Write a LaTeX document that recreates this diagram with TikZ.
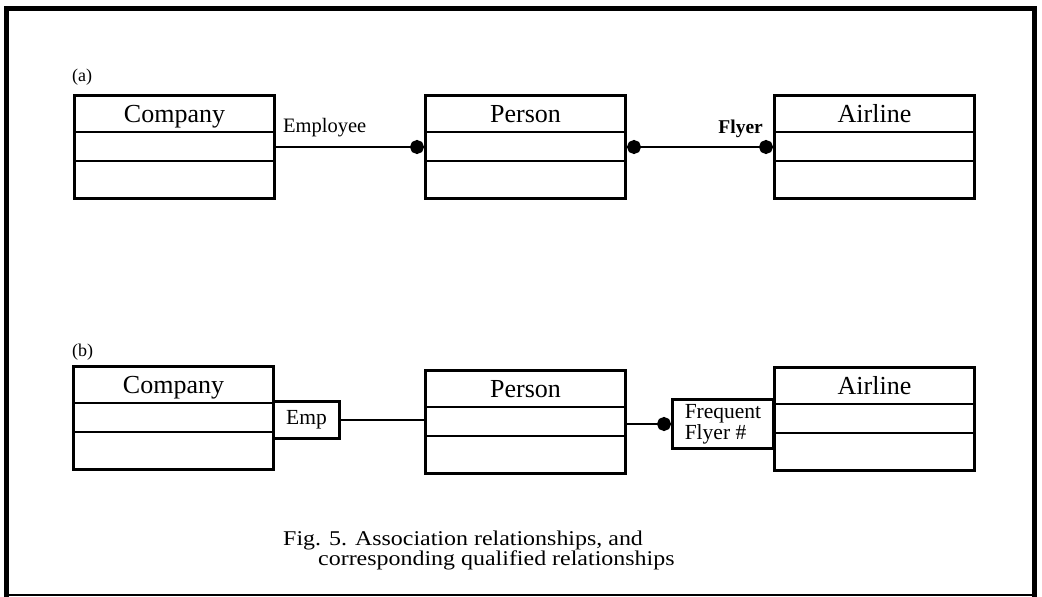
\documentclass[tikz,border=0pt]{standalone}
\usepackage{fontspec}
\setmainfont{Liberation Serif}
\newfontfamily\capfont[FakeStretch=1.14]{Liberation Serif}
\usetikzlibrary{arrows.meta,calc}

\tikzset{
  classbox/.style={draw, line width=3pt, minimum width=200pt, minimum height=103pt,
    inner sep=0pt, anchor=north west},
  divider/.style={line width=2.6pt},
  classname/.style={font=\fontsize{26}{28}\selectfont, anchor=base, inner sep=0pt},
  qualbox/.style={draw, line width=3pt, inner sep=0pt, anchor=north west},
  assoc/.style={line width=2.8pt},
  ball/.style={-{Circle[length=14pt]}},
  roleA/.style={font=\fontsize{20.5}{22}\selectfont},
  roleB/.style={font=\bfseries\fontsize{19.5}{22}\selectfont},
  partlabel/.style={font=\fontsize{18}{20}\selectfont, anchor=west, inner sep=0pt},
  caption/.style={font=\capfont\fontsize{21}{21}\selectfont, anchor=base west, inner sep=0pt},
  frame/.style={line width=5pt},
}

% class box: name, x, top y, label
\newcommand{\umlclass}[4]{%
  \node[classbox] (#1) at (#2,#3) {};
  \draw[divider] ($(#1.north west)+(0,38)$) -- ($(#1.north east)+(0,38)$);
  \draw[divider] ($(#1.north west)+(0,67)$) -- ($(#1.north east)+(0,67)$);
  \node[classname] (#1-name) at ($(#1.north)+(0,28)$) {#4};
}

\begin{document}
\begin{tikzpicture}[x=1pt, y=-1pt]
\useasboundingbox (0,0) rectangle (1042,597);

% outer frame
\draw[frame] (6,597) -- (6,8) -- (1034,8) -- (1034,597);
\draw[line width=1.5pt] (6,595) -- (1034,595);

% (a) association relationships
\node[partlabel] (lblA) at (72,77) {(a)};
\umlclass{coA}{73}{94}{Company}
\umlclass{peA}{424}{94}{Person}
\umlclass{aiA}{773}{94}{Airline}

\draw[assoc, ball] (coA.east) -- (peA.west);
\draw[assoc, {Circle[length=14pt]}-{Circle[length=14pt]}] (peA.east) -- (aiA.west);
\node[roleA, anchor=base west, inner sep=0pt] (empRole) at (283,132) {Employee};
\node[roleB, anchor=base east, inner sep=0pt] (flyRole) at (763,133) {Flyer};

% (b) corresponding qualified relationships
\node[partlabel] (lblB) at (72,352) {(b)};
\umlclass{coB}{72}{365}{Company}
\umlclass{peB}{424}{369}{Person}
\umlclass{aiB}{773}{366}{Airline}

\node[qualbox, minimum width=66pt, minimum height=37pt,
      font=\fontsize{21.5}{22}\selectfont] (emp) at (272,400) {Emp};
\node[qualbox, minimum width=101pt, minimum height=49pt,
      font=\fontsize{21.5}{21}\selectfont, align=left] (ffn) at (671,398)
      {Frequent\\Flyer \#};

\draw[assoc] (emp.east) -- (emp.east -| peB.west);
\draw[assoc, ball] (ffn.west -| peB.east) -- (ffn.west);

% caption
\node[caption] (cap1) at (283,545) {Fig. 5. Association relationships, and};
\node[caption] (cap2) at (318,565) {corresponding qualified relationships};
\end{tikzpicture}
\end{document}
